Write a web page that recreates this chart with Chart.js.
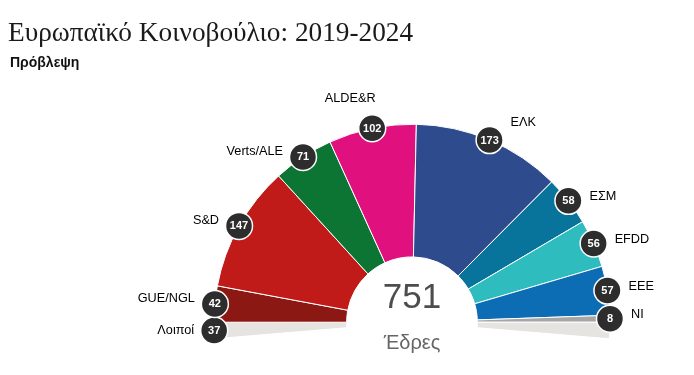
<!DOCTYPE html>
<html lang="el">
<head>
<meta charset="utf-8">
<title>Ευρωπαϊκό Κοινοβούλιο: 2019-2024</title>
<script src="https://cdn.jsdelivr.net/npm/chart.js@4.4.1/dist/chart.umd.min.js"></script>
<style>
  html, body { margin: 0; padding: 0; background: #fff; }
  #wrap { position: relative; width: 694px; height: 375px; overflow: hidden; }
  #title {
    position: absolute; left: 8px; top: 17px;
    font-family: "Liberation Serif", "DejaVu Serif", serif;
    font-size: 27.3px; color: #1a1a1a; white-space: nowrap;
  }
  #subtitle {
    position: absolute; left: 10px; top: 54px;
    font-family: "Liberation Sans", Arial, sans-serif;
    font-size: 14px; font-weight: bold; color: #111;
  }
  #chartBox { position: absolute; left: 0; top: 0; width: 694px; height: 375px; }
</style>
</head>
<body>
<div id="wrap">
  <div id="chartBox"><canvas id="parliament-chart"></canvas></div>
  <div id="title">Ευρωπαϊκό Κοινοβούλιο: 2019-2024</div>
  <div id="subtitle">Πρόβλεψη</div>
</div>
<script>
// groups from left to right, first one is drawn as the grey base wedge
const parties = ["Λοιποί", "GUE/NGL", "S&D", "Verts/ALE", "ALDE&R", "ΕΛΚ", "ΕΣΜ", "EFDD", "ΕΕΕ", "NI"];
const seats = [37, 42, 147, 71, 102, 173, 58, 56, 57, 8];
const partyColors = ["#e6e4e0", "#8b1813", "#c01b19", "#0c7533", "#e1107f", "#2e4b8d", "#08749c", "#2fbcbf", "#0d6db4", "#a6a6a6"];
const baseWedge = 19; // grey base on each side, in seat units
const baseColor = "#e6e4e0";
const centerLabel = "Έδρες";

const groups = parties.length;
const seatedTotal = seats.slice(1).reduce((a, b) => a + b, 0);
const totalSeats = seats.reduce((a, b) => a + b, 0);
const arcData = [baseWedge, ...seats.slice(1), baseWedge];
const sweep = (seatedTotal + 2 * baseWedge) / seatedTotal * 180;

const sansFont = '"Liberation Sans", Arial, sans-serif';

const seatBadges = {
  id: "seatBadges",
  afterDraw(chart) {
    const ctx = chart.ctx;
    const meta = chart.getDatasetMeta(0);
    const arcs = meta.data;
    const cx = arcs[0].x, cy = arcs[0].y;

    ctx.save();
    for (let i = 0; i < groups; i++) {
      const arc = arcs[i];
      const mid = (arc.startAngle + arc.endAngle) / 2;
      const r = arc.outerRadius;
      const bx = cx + r * Math.cos(mid);
      const by = cy + r * Math.sin(mid);
      const c = Math.cos(mid), s = -Math.sin(mid);

      // party name
      ctx.fillStyle = "#000";
      ctx.font = "12.7px " + sansFont;
      ctx.textBaseline = "middle";
      if (Math.abs(c) < 0.3) {
        ctx.textAlign = "center";
        ctx.fillText(parties[i], bx - 22, by - 30);
      } else if (c < 0) {
        ctx.textAlign = "right";
        ctx.fillText(parties[i], bx - 20, by - (s < 0 ? 0 : 5));
      } else {
        ctx.textAlign = "left";
        ctx.fillText(parties[i], bx + 21, by - 4 - (s > 0.85 ? 14 : 0));
      }

      // seat count badge
      ctx.beginPath();
      ctx.arc(bx, by, 13.5, 0, Math.PI * 2);
      ctx.fillStyle = "#2d2d2d";
      ctx.fill();
      ctx.lineWidth = 1.5;
      ctx.strokeStyle = "#fff";
      ctx.stroke();
      ctx.fillStyle = "#fff";
      ctx.font = "bold 11px " + sansFont;
      ctx.textAlign = "center";
      ctx.fillText(String(seats[i]), bx, by + 0.5);
    }

    // total in the middle
    ctx.fillStyle = "#4d4d4d";
    ctx.font = "35px " + sansFont;
    ctx.textAlign = "center";
    ctx.textBaseline = "alphabetic";
    ctx.fillText(String(totalSeats), cx, cy - 14);
    ctx.fillStyle = "#666";
    ctx.font = "20px " + sansFont;
    ctx.fillText(centerLabel, cx, cy + 27);
    ctx.restore();
  }
};

let config = {
  type: "doughnut",
  data: {
    labels: [...parties, ""],
    datasets: [
      {
        data: arcData,
        backgroundColor: [...partyColors, baseColor],
        borderColor: "#ffffff",
        borderWidth: 1,
        hoverOffset: 0,
      },
    ],
  },
  options: {
    responsive: true,
    maintainAspectRatio: false,
    animation: false,
    rotation: -sweep / 2,
    circumference: sweep,
    cutout: "33%",
    radius: 198,
    layout: {
      padding: { left: 214, right: 84, top: 124, bottom: 36 },
    },
    plugins: {
      legend: { display: false },
      tooltip: { enabled: false },
    },
  },
  plugins: [seatBadges],
};

let ctx = document.getElementById("parliament-chart").getContext("2d");
new Chart(ctx, config);
</script>
</body>
</html>
